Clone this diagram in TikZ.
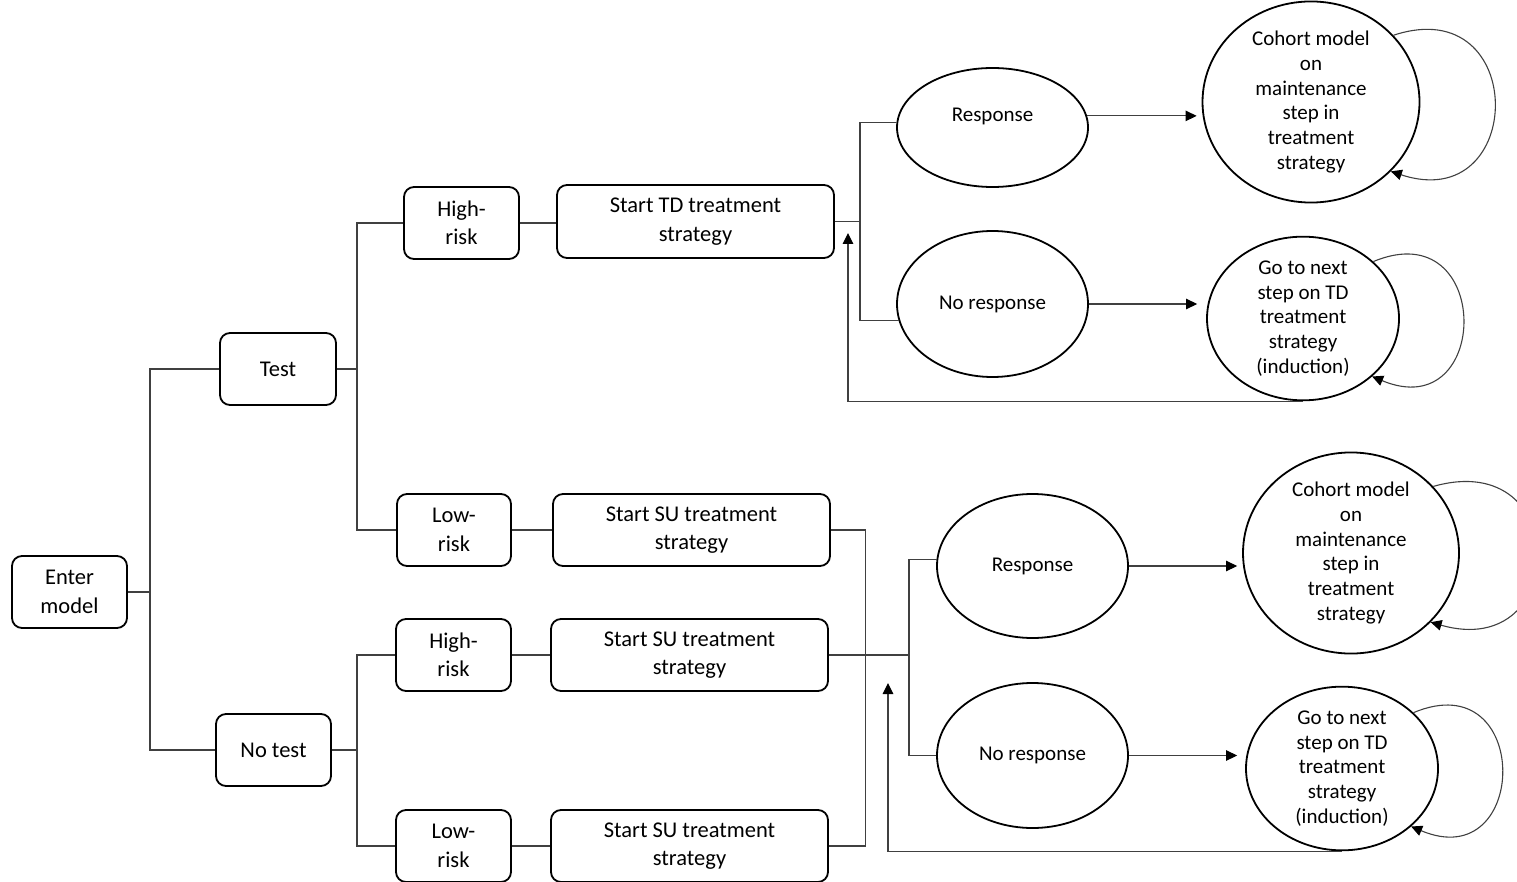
\documentclass[tikz,border=0pt]{standalone}
\usepackage{fontspec}
\setmainfont{Carlito}
\usetikzlibrary{shapes.geometric,arrows.meta}
\begin{document}
\begin{tikzpicture}[x=1pt,y=-1pt,
  box/.style={draw=black, line width=1.8pt, rounded corners=10pt, align=center,
    inner sep=0pt, font=\fontsize{22.5}{28.5}\selectfont},
  small/.style={box, minimum width=115pt, minimum height=72pt},
  wide/.style={box, minimum width=277pt, minimum height=72pt},
  oval/.style={draw=black, line width=1.8pt, ellipse, inner sep=0pt, align=center,
    font=\fontsize{21}{24.8}\selectfont},
  wire/.style={draw=black!75, line width=1.1pt},
  arr/.style={wire, -{Triangle[length=11pt,width=10.5pt,color=black]}},
]
\useasboundingbox (0,0) rectangle (1517,882);

% left tree
\node[small] (enter) at (69.5,592) {Enter\\model};
\node[small, minimum width=116pt] (test) at (278,369) {Test};
\node[small] (notest) at (273.5,750) {No test};
\node[small] (hr1) at (461.5,223) {High-\\risk};
\node[small, minimum width=114pt] (lr1) at (454,530) {Low-\\risk};
\node[small] (hr2) at (453.5,655) {High-\\risk};
\node[small] (lr2) at (453.5,846) {Low-\\risk};
\node[wide, minimum height=73pt] (td) at (695.5,221.5) {Start TD treatment\\strategy};
\node[wide] (su1) at (691.5,530) {Start SU treatment\\strategy};
\node[wide] (su2) at (689.5,655) {Start SU treatment\\strategy};
\node[wide] (su3) at (689.5,846) {Start SU treatment\\strategy};

% ellipses
\node[oval, minimum width=191pt, minimum height=119pt] (r1) at (992.5,127.5) {Response\\\mbox{}};
\node[oval, minimum width=191pt, minimum height=146pt] (nr1) at (992.5,304) {No response};
\node[oval, minimum width=217pt, minimum height=182pt] (cm1) at (1311,102)
  {Cohort model\\on\\maintenance\\step in\\treatment\\strategy};
\node[oval, minimum width=192pt, minimum height=159pt] (gn1) at (1303,318.5)
  {Go to next\\step on TD\\treatment\\strategy\\(induction)};
\node[oval, minimum width=191pt, minimum height=144pt] (r2) at (1032.5,566) {Response};
\node[oval, minimum width=191pt, minimum height=145pt] (nr2) at (1032.5,755.5) {No response};
\node[oval, minimum width=216pt, minimum height=182pt] (cm2) at (1351,553)
  {Cohort model\\on\\maintenance\\step in\\treatment\\strategy};
\node[oval, minimum width=192pt, minimum height=159pt] (gn2) at (1342,768.5)
  {Go to next\\step on TD\\treatment\\strategy\\(induction)};

% junction coordinates
\coordinate (ja) at (150,592);
\coordinate (jb) at (357,369);
\coordinate (jc) at (357,750);
\coordinate (jd) at (860,221.5);
\coordinate (je) at (909,655);
\coordinate (fb1) at (848,233);
\coordinate (fb2) at (888,683);

% left tree connectors
\draw[wire] (enter.east) -- (ja);
\draw[wire] (test.west) -| (ja) |- (notest.west);
\draw[wire] (test.east) -- (jb);
\draw[wire] (hr1.west) -| (jb) |- (lr1.west);
\draw[wire] (notest.east) -- (jc);
\draw[wire] (hr2.west) -| (jc) |- (lr2.west);
\draw[wire] (hr1.east) -- (td.west|-hr1.east);
\draw[wire] (lr1.east) -- (su1.west|-lr1.east);
\draw[wire] (hr2.east) -- (su2.west|-hr2.east);
\draw[wire] (lr2.east) -- (su3.west|-lr2.east);

% top right part
\draw[wire] (td.east) -- (jd);
\draw[wire] (r1.177) -| (jd) |- (nr1.190);
\draw[arr] (gn1.south) -| (fb1);
\draw[arr, shorten >=5pt] (r1.7) -- (cm1.west|-r1.7);
\draw[arr, shorten >=9pt] (nr1.east) -- (gn1.west|-nr1.east);
\draw[arr] (cm1.39.5) .. controls +(136,-45) and +(136,45) .. (cm1.-41.5);
\draw[arr] (gn1.39) .. controls +(120,-50) and +(120,50) .. (gn1.-40);

% bottom right part
\draw[wire] (su1.east) -- ++(35,0) |- (su3.east);
\draw[wire] (su2.east) -- (je);
\draw[wire] (r2.176) -| (je) |- (nr2.west);
\draw[arr] (gn2.south) -| (fb2);
\draw[arr, shorten >=5pt] (r2.east) -- (cm2.west|-r2.east);
\draw[arr, shorten >=8pt] (nr2.east) -- (gn2.west|-nr2.east);
\draw[arr] (cm2.39) .. controls +(140,-40) and +(140,40) .. (cm2.-41);
\draw[arr] (gn2.38.5) .. controls +(119,-50) and +(119,50) .. (gn2.-40);
\end{tikzpicture}
\end{document}
